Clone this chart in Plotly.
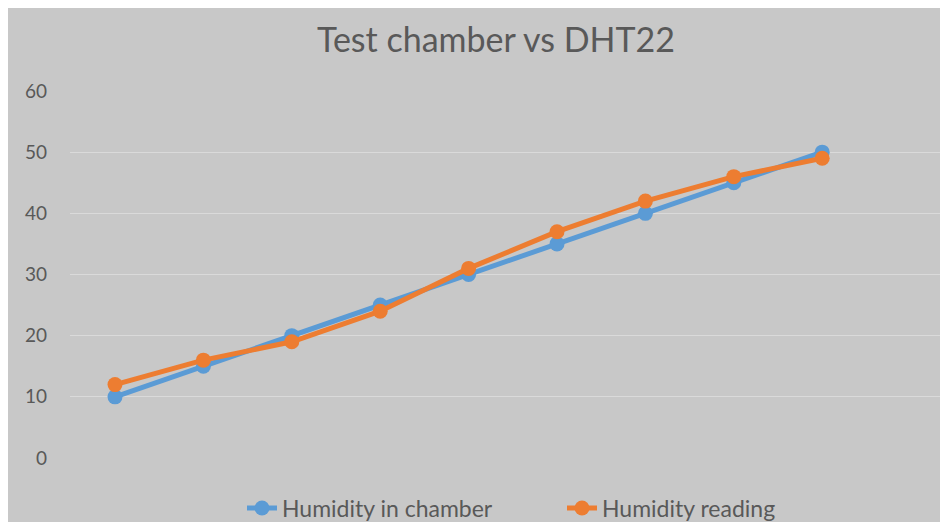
import plotly.graph_objects as go

categories = [1, 2, 3, 4, 5, 6, 7, 8, 9]
chamber = [10, 15, 20, 25, 30, 35, 40, 45, 50]
reading = [12, 16, 19, 24, 31, 37, 42, 46, 49]
y_ticks = [0, 10, 20, 30, 40, 50, 60]

BG = "#c8c8c8"
TXT = "#595959"
FONT = "Lato"

W, H = 948, 522
L, R, T, B = 62, 0, 83, 72
PW, PH = W - L - R, H - T - B
STEP = 88.4

fig = go.Figure()
fig.add_trace(go.Scatter(x=categories, y=chamber, name="Humidity in chamber",
                         mode="lines+markers", cliponaxis=False,
                         line=dict(color="#5b9bd5", width=5),
                         marker=dict(color="#5b9bd5", size=15)))
fig.add_trace(go.Scatter(x=categories, y=reading, name="Humidity reading",
                         mode="lines+markers", cliponaxis=False,
                         line=dict(color="#ed7d31", width=5),
                         marker=dict(color="#ed7d31", size=15)))

x0 = 1 - 45 / STEP
fig.update_layout(
    width=W, height=H,
    paper_bgcolor=BG, plot_bgcolor=BG,
    margin=dict(l=L, r=R, t=T, b=B, autoexpand=False),
    title=dict(text="Test chamber vs DHT22", x=488 / W, xanchor="center",
               xref="container", y=1 - 32 / H, yanchor="middle",
               font=dict(family=FONT, size=34, color=TXT)),
    font=dict(family=FONT, color=TXT),
    xaxis=dict(range=[x0, x0 + PW / STEP], showticklabels=False, showgrid=False,
               zeroline=False, showline=False, automargin=False),
    yaxis=dict(range=[0, 60], tickvals=y_ticks, showgrid=True,
               gridcolor="#dadada", gridwidth=1, zeroline=False,
               automargin=False,
               tickfont=dict(family=FONT, size=19, color=TXT),
               ticklabelstandoff=22),
    legend=dict(orientation="h", x=(554 - L) / PW, xanchor="center", y=-50 / PH,
                yanchor="middle", font=dict(family=FONT, size=23, color=TXT),
                bgcolor="rgba(0,0,0,0)", entrywidth=275, entrywidthmode="pixels"),
    showlegend=True,
)

fig.write_html("out.html")
